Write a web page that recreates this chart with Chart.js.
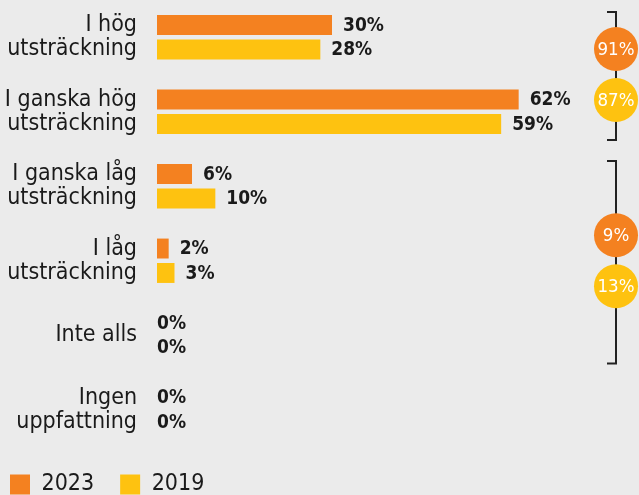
<!DOCTYPE html>
<html>
<head>
<meta charset="utf-8">
<script src="https://cdn.jsdelivr.net/npm/chart.js@4"></script>
<style>
html, body { margin: 0; padding: 0; background: #ebebeb; }
#wrap { width: 639px; height: 495px; }
</style>
</head>
<body>
<div id="wrap"><canvas id="chart"></canvas></div>
<script>
var categories = [['I hög', 'utsträckning'], ['I ganska hög', 'utsträckning'], ['I ganska låg', 'utsträckning'], ['I låg', 'utsträckning'], 'Inte alls', ['Ingen', 'uppfattning']];
var values2023 = [30, 62, 6, 2, 0, 0];
var values2019 = [28, 59, 10, 3, 0, 0];
// brackets on the right: first and last category of each group
var groups = [[0, 1], [2, 4]];
var groupTotals2023 = [91, 9];
var groupTotals2019 = [87, 13];

var orange = '#f48120';
var yellow = '#fec210';
var fontName = '"DejaVu Sans Condensed", "DejaVu Sans", sans-serif';

var extras = {
    id: 'extras',
    afterDatasetsDraw: function(chart) {
        var ctx = chart.ctx;
        ctx.save();
        ctx.textBaseline = 'middle';
        ctx.textAlign = 'left';
        ctx.fillStyle = '#1a1a1a';
        ctx.font = 'bold 19px ' + fontName;
        chart.data.datasets.forEach(function(ds, i) {
            chart.getDatasetMeta(i).data.forEach(function(bar, j) {
                var v = ds.data[j];
                ctx.fillText(v + '%', bar.x + (v > 0 ? 11 : 0), bar.y + 1);
            });
        });

        var m0 = chart.getDatasetMeta(0).data;
        var m1 = chart.getDatasetMeta(1).data;
        var bx = chart.width - 23;
        groups.forEach(function(g, k) {
            var barTop = m0[g[0]].y - m0[g[0]].height / 2;
            var barBottom = m1[g[1]].y + m1[g[1]].height / 2;
            var top = barTop - 3;
            var bottom = barBottom + 6;
            ctx.strokeStyle = '#222';
            ctx.lineWidth = 2;
            ctx.beginPath();
            ctx.moveTo(bx - 9, top);
            ctx.lineTo(bx, top);
            ctx.lineTo(bx, bottom);
            ctx.lineTo(bx - 9, bottom);
            ctx.stroke();

            var mid = (barTop + barBottom) / 2;
            [[groupTotals2023[k], orange, mid - 25.5], [groupTotals2019[k], yellow, mid + 25.5]].forEach(function(c) {
                ctx.fillStyle = c[1];
                ctx.beginPath();
                ctx.arc(bx, c[2], 22, 0, Math.PI * 2);
                ctx.fill();
                ctx.fillStyle = '#fff';
                ctx.textAlign = 'center';
                ctx.font = '18.5px ' + fontName;
                ctx.fillText(c[0] + '%', bx, c[2] + 1);
            });
        });
        ctx.restore();
    }
};

var chart = new Chart(document.getElementById('chart'), {
    type: 'bar',
    data: {
        labels: categories,
        datasets: [{
            label: '2023',
            data: values2023,
            backgroundColor: orange,
            borderWidth: 0
        }, {
            label: '2019',
            data: values2019,
            backgroundColor: yellow,
            borderWidth: 0
        }]
    },
    options: {
        indexAxis: 'y',
        responsive: true,
        maintainAspectRatio: false,
        animation: false,
        layout: {
            padding: { left: -16, right: 62, top: -1, bottom: 0 }
        },
        datasets: {
            bar: { categoryPercentage: 0.656, barPercentage: 0.816 }
        },
        scales: {
            x: {
                display: false,
                min: 0,
                max: 72
            },
            y: {
                grid: { display: false, drawTicks: false },
                border: { display: false },
                ticks: {
                    padding: 20,
                    color: '#1a1a1a',
                    font: { family: fontName, size: 23, lineHeight: '24px' }
                },
                afterFit: function(scale) {
                    scale.width = 173;
                    scale.paddingTop = 0;
                    scale.paddingBottom = 0;
                }
            }
        },
        plugins: {
            legend: {
                position: 'bottom',
                align: 'start',
                maxHeight: 48,
                labels: {
                    boxWidth: 20,
                    boxHeight: 20,
                    padding: 26,
                    color: '#1a1a1a',
                    font: { family: fontName, size: 23 }
                }
            },
            tooltip: { enabled: false }
        }
    },
    plugins: [extras]
});
</script>
</body>
</html>
